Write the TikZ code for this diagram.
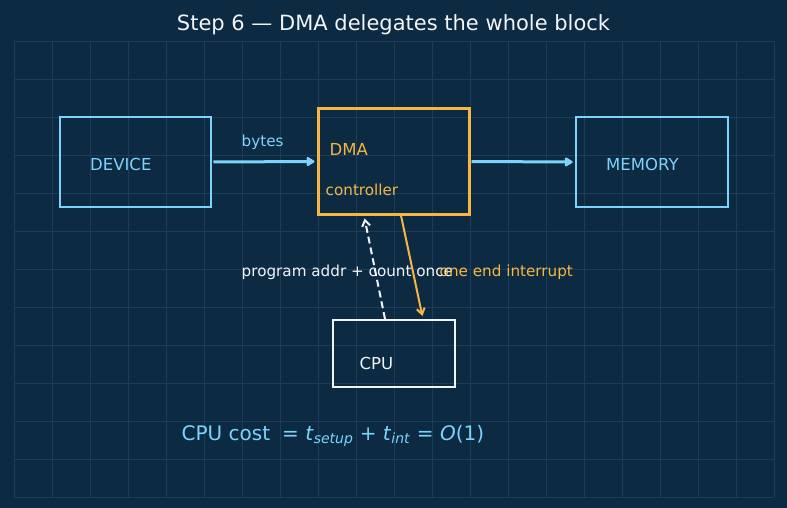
\documentclass[tikz,border=0pt]{standalone}
\usepackage{fontspec}
\setmainfont{DejaVu Sans}
\usetikzlibrary{arrows.meta}

\definecolor{bgnavy}{HTML}{0C2A42}
\definecolor{gridblue}{HTML}{1C3C59}
\definecolor{skyblue}{HTML}{7DD3FC}
\definecolor{amber}{HTML}{F6B545}
\definecolor{paper}{HTML}{F2F5F8}

\begin{document}
\begin{tikzpicture}[
    x=1pt, y=-1pt,
    gridline/.style={gridblue, line width=0.7pt},
    box/.style={draw, line width=2.6pt, minimum width=151pt, minimum height=90pt, inner sep=0pt},
    big/.style={anchor=base west, inner sep=0pt, font=\fontsize{16.5}{19}\selectfont},
    small/.style={anchor=base west, inner sep=0pt, font=\fontsize{15.2}{18}\selectfont},
    flow/.style={-{Triangle[length=9pt,width=10pt,round]}, line width=3pt, skyblue, shorten <=1pt, shorten >=2pt},
    prog/.style={-{Straight Barb[length=6pt,width=8pt]}, line width=2pt, paper, dash pattern=on 7pt off 4pt, shorten >=3pt},
    irq/.style={-{Straight Barb[length=6pt,width=8pt]}, line width=2pt, amber, shorten >=3pt}
]

% Background and grid
\useasboundingbox (0,0) rectangle (787,508);
\fill[bgnavy] (0,0) rectangle (787,508);
\foreach \gx in {0,...,20}
    \draw[gridline] (14+38*\gx,41) -- (14+38*\gx,497);
\foreach \gy in {0,...,12}
    \draw[gridline] (14,41+38*\gy) -- (774,41+38*\gy);

% Title
\node[anchor=base, inner sep=0pt, paper, font=\fontsize{21}{24}\selectfont] (title) at (393.5,30.7) {Step 6 --- DMA delegates the whole block};

% Boxes
\node[box, skyblue] (dev) at (135.5,162) {};
\node[box, amber, line width=3pt, minimum height=105pt] (dma) at (393.5,161.5) {};
\node[box, skyblue, minimum width=152pt] (mem) at (652,162) {};
\node[box, paper, line width=2pt, minimum width=122pt, minimum height=67pt] (cpu) at (394,353.5) {};

% Box texts
\node[big, skyblue] (devtxt) at (90,170) {DEVICE};
\node[big, amber] (dmatxt) at (329.5,155) {DMA};
\node[small, amber] (ctltxt) at (325.5,195.7) {controller};
\node[big, skyblue] (memtxt) at (606,170) {MEMORY};
\node[big, paper] (cputxt) at (359.5,369.3) {CPU};

% Data path
\draw[flow] (dev.east) -- (dma.west);
\draw[flow] (dma.east) -- (mem.west);
\node[small, skyblue] (bytes) at (241.5,146.5) {bytes};

% Control path
\draw[prog] ([xshift=-9pt]cpu.north) -- ([xshift=-29.5pt]dma.south);
\draw[irq] ([xshift=7.5pt]dma.south) -- ([xshift=29pt]cpu.north);
\node[small, paper] (progtxt) at (241.5,276) {program addr + count once};
\node[small, amber] (irqtxt) at (439.5,276) {one end interrupt};

% Cost
\node[anchor=base west, inner sep=0pt, skyblue, font=\fontsize{20}{24}\selectfont] (cost) at (181.5,440)
    {CPU cost\hspace{0.6em}= \textit{t}\textsubscript{\textit{setup}} + \textit{t}\textsubscript{\textit{int}} = \textit{O}(1)};

\end{tikzpicture}
\end{document}
